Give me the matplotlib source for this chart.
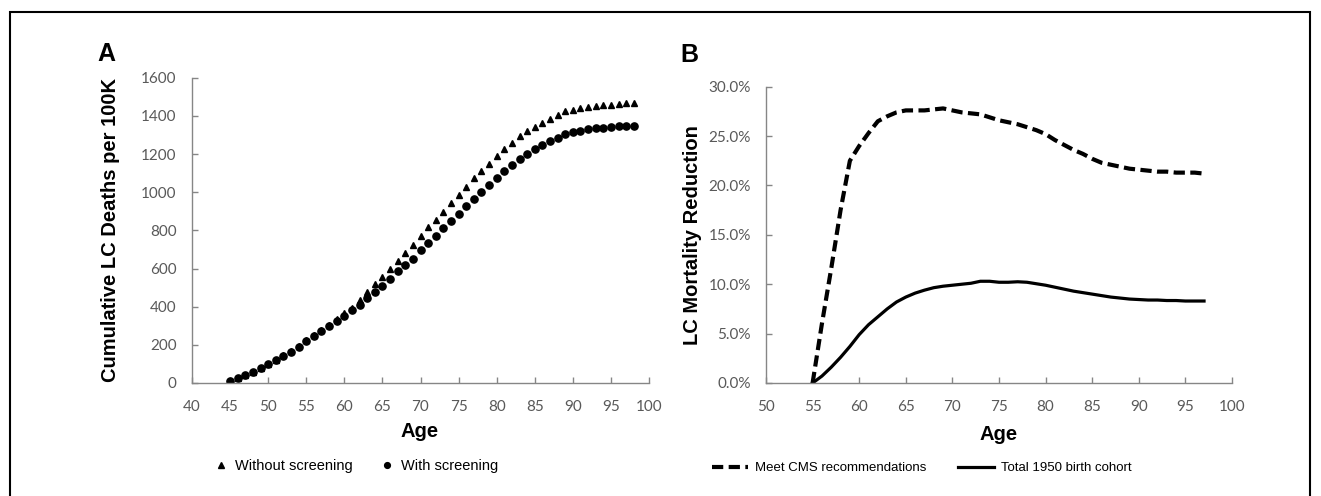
import matplotlib
matplotlib.use("Agg")
import matplotlib.pyplot as plt
from matplotlib.patches import Rectangle
from matplotlib.ticker import FuncFormatter

# ---------------- Data ----------------
ages_a = list(range(45, 99))
without_screening = [12, 26, 42, 58, 79, 100, 122, 146, 168, 193, 224, 251, 276, 305, 333, 367,
                     395, 437, 477, 521, 555, 599, 639, 680, 721, 769, 816, 855, 897, 944,
                     987, 1029, 1072, 1112, 1147, 1191, 1227, 1260, 1292, 1321, 1344, 1365,
                     1385, 1406, 1424, 1432, 1440, 1446, 1453, 1455, 1459, 1462, 1466, 1467]
with_screening = [10, 26, 42, 57, 78, 99, 120, 144, 165, 190, 221, 247, 271, 298, 324, 351,
                  381, 409, 444, 477, 510, 545, 585, 617, 651, 698, 735, 773, 811, 850,
                  886, 926, 964, 1001, 1037, 1074, 1109, 1142, 1172, 1199, 1225, 1248,
                  1269, 1286, 1304, 1316, 1321, 1330, 1335, 1339, 1344, 1346, 1347, 1347]

ages_b = list(range(55, 98))
meet_cms = [0.0, 6.0, 11.6, 17.5, 22.5, 24.0, 25.3, 26.5, 27.0, 27.4, 27.6, 27.6, 27.6, 27.7,
            27.8, 27.6, 27.4, 27.3, 27.2, 26.9, 26.6, 26.4, 26.2, 25.9, 25.6, 25.2, 24.6,
            24.1, 23.6, 23.2, 22.7, 22.3, 22.1, 21.9, 21.7, 21.6, 21.5, 21.4, 21.4, 21.3,
            21.3, 21.3, 21.2]
total_1950 = [0.0, 0.7, 1.6, 2.6, 3.7, 4.9, 5.9, 6.7, 7.5, 8.2, 8.7, 9.1, 9.4, 9.65, 9.8,
              9.9, 10.0, 10.1, 10.3, 10.3, 10.2, 10.2, 10.25, 10.2, 10.05, 9.9, 9.7, 9.5,
              9.3, 9.15, 9.0, 8.85, 8.7, 8.6, 8.5, 8.45, 8.4, 8.4, 8.35, 8.35, 8.3, 8.3, 8.3]

a_xticks = list(range(40, 101, 5))
a_yticks = list(range(0, 1601, 200))
b_xticks = list(range(50, 101, 5))
b_yticks = [0, 5, 10, 15, 20, 25, 30]

# ---------------- Style ----------------
W, H = 1321, 496
fig = plt.figure(figsize=(W / 100, H / 100), dpi=100)
SPINE = "#868686"
TICKC = "#595959"
TICKFONT = "Lato"
BOLD = "Liberation Sans"
LABEL_SIZE = 14.5

def px(x0, y_top, x1, y_bot):
    return [x0 / W, 1 - y_bot / H, (x1 - x0) / W, (y_bot - y_top) / H]

def style(ax):
    for s in ["top", "right"]:
        ax.spines[s].set_visible(False)
    for s in ["left", "bottom"]:
        ax.spines[s].set_color(SPINE)
        ax.spines[s].set_linewidth(1.0)
    ax.tick_params(direction="in", length=4, width=1.0, color=SPINE,
                   labelcolor=TICKC, labelsize=11)
    ax.tick_params(axis="x", pad=12)
    ax.tick_params(axis="y", pad=11)
    for lab in ax.get_xticklabels() + ax.get_yticklabels():
        lab.set_fontfamily(TICKFONT)

# ---------------- Panel A ----------------
axA = fig.add_axes(px(192, 77.7, 649, 383))
axA.plot(ages_a, without_screening, linestyle="none", marker="^", markersize=5,
         color="black", label="Without screening")
axA.plot(ages_a, with_screening, linestyle="none", marker="o", markersize=5.2,
         color="black", label="With screening")
axA.set_xlim(40, 100)
axA.set_ylim(0, 1600)
axA.set_xticks(a_xticks)
axA.set_yticks(a_yticks)
style(axA)
axA.set_xlabel("Age", fontsize=LABEL_SIZE, fontweight="bold", family=BOLD)
axA.set_ylabel("Cumulative LC Deaths per 100K", fontsize=LABEL_SIZE, fontweight="bold",
               family=BOLD)
axA.xaxis.set_label_coords(420 / W, 1 - 422 / H, transform=fig.transFigure)
axA.yaxis.set_label_coords(120 / W, 1 - 230 / H, transform=fig.transFigure)
axA.legend(loc="center", bbox_to_anchor=(356 / W, 1 - 466 / H),
           bbox_transform=fig.transFigure, ncol=2, frameon=False,
           prop={"family": BOLD, "size": 10.5}, handlelength=1.0,
           handletextpad=0.5, columnspacing=1.8, markerscale=0.8)

# ---------------- Panel B ----------------
axB = fig.add_axes(px(766, 86.7, 1232, 383))
axB.plot(ages_b, meet_cms, color="black", linewidth=3.0,
         linestyle=(0, (2.7, 1.3)), label="Meet CMS recommendations")
axB.plot(ages_b, total_1950, color="black", linewidth=2.3,
         label="Total 1950 birth cohort")
axB.set_xlim(50, 100)
axB.set_ylim(0, 30)
axB.set_xticks(b_xticks)
axB.set_yticks(b_yticks)
axB.yaxis.set_major_formatter(FuncFormatter(lambda v, p: f"{v:.1f}%"))
style(axB)
axB.set_xlabel("Age", fontsize=LABEL_SIZE, fontweight="bold", family=BOLD)
axB.set_ylabel("LC Mortality Reduction", fontsize=LABEL_SIZE, fontweight="bold",
               family=BOLD)
axB.xaxis.set_label_coords(999 / W, 1 - 425 / H, transform=fig.transFigure)
axB.yaxis.set_label_coords(702 / W, 1 - 235 / H, transform=fig.transFigure)
axB.legend(loc="center", bbox_to_anchor=(922 / W, 1 - 468 / H),
           bbox_transform=fig.transFigure, ncol=2, frameon=False,
           prop={"family": BOLD, "size": 9.5}, handlelength=2.7,
           handletextpad=0.55, columnspacing=2.4)

# panel letters
fig.text(106 / W, 1 - 54 / H, "A", fontsize=18, fontweight="bold", family=BOLD,
         ha="center", va="center")
fig.text(689 / W, 1 - 55 / H, "B", fontsize=18, fontweight="bold", family=BOLD,
         ha="center", va="center")

# outer frame
fig.patches.append(Rectangle((10 / W, -0.1), 1300 / W, 1.1 - 12 / H,
                             transform=fig.transFigure, fill=False,
                             edgecolor="black", linewidth=1.5))

fig.savefig("out.png", dpi=100)
